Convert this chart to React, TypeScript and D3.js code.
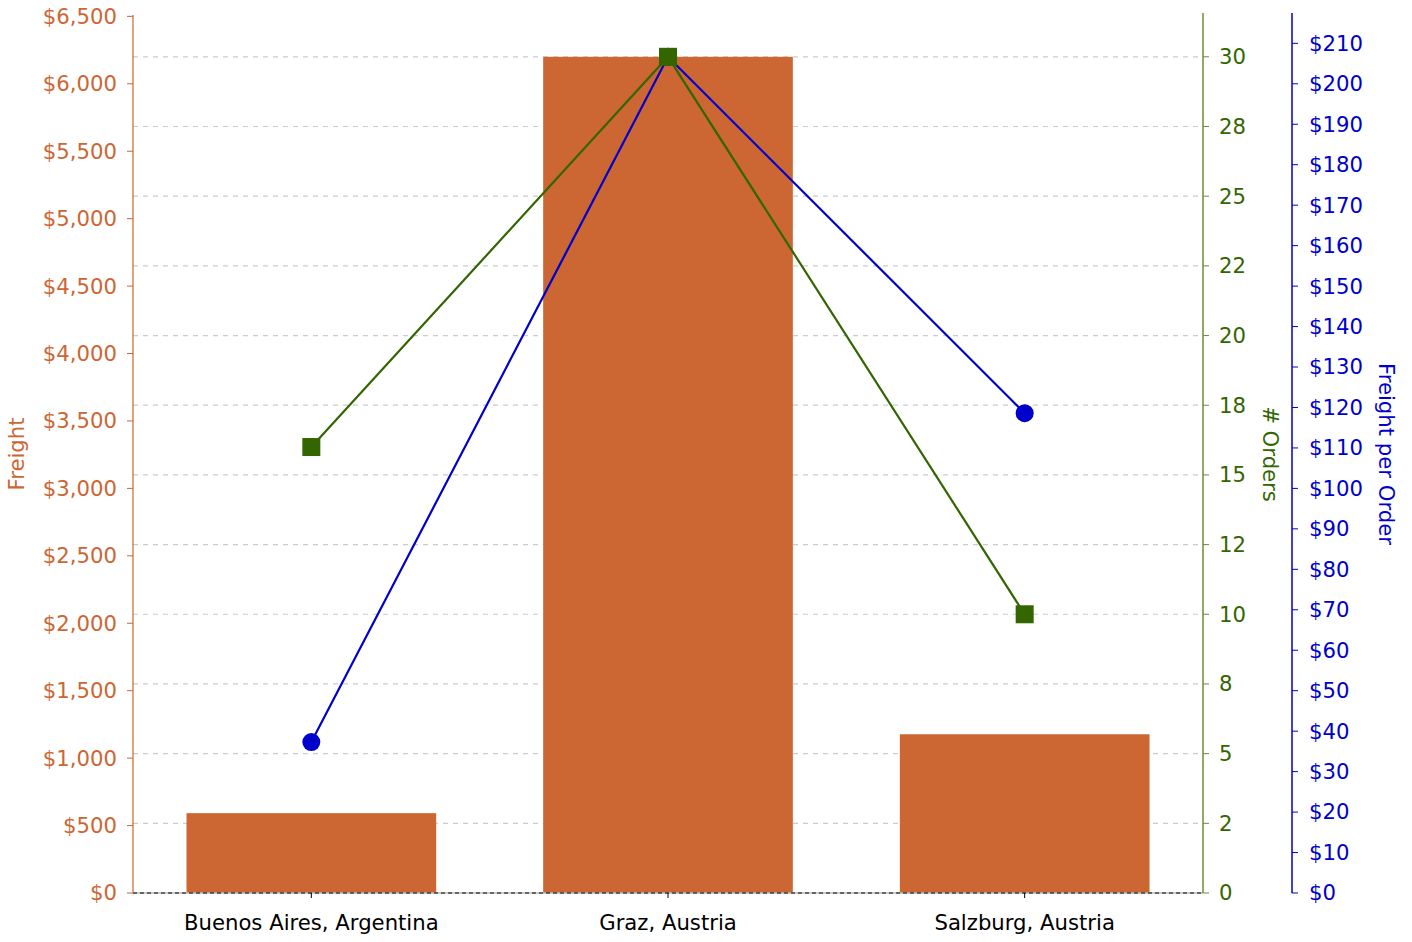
import React from "react";
import * as d3 from "d3";

const categories = ["Buenos Aires, Argentina", "Graz, Austria", "Salzburg, Austria"];
const freight = [592, 6200, 1177];
const orders = [16, 30, 10];
const freightPerOrder = [37.3, 206.67, 118.6];
const freightTicks = d3.range(0, 6501, 500);
const orderTicks = d3.range(0, 31, 2.5);
const fpoTicks = d3.range(0, 211, 10);

const W = 1412, H = 942;
const left = 133, right = 1203, top = 15, bottom = 893;
const blueX = 1292;
const ORANGE = "#cc6633", GREEN = "#336600", GREEN_AXIS = "#6b8e3a", BLUE = "#0000cc";
const FONT = "DejaVu Sans";
const FS = 21.2;

function roundHalfEven(v: number) {
  const f = Math.floor(v);
  const d = v - f;
  if (Math.abs(d - 0.5) < 1e-9) return f % 2 === 0 ? f : f + 1;
  return Math.round(v);
}

export default function App() {
  const x = d3.scaleBand<string>().domain(categories).range([left, right]).paddingInner(0.3).paddingOuter(0.15);
  const yF = d3.scaleLinear().domain([0, d3.max(freight)! * 1.05]).range([bottom, top]);
  const yO = d3.scaleLinear().domain([0, d3.max(orders)! * 1.05]).range([bottom, top]);
  const yP = d3.scaleLinear().domain([0, d3.max(freightPerOrder)! * 1.05]).range([bottom, top]);
  const cx = (c: string) => x(c)! + x.bandwidth() / 2;
  const fmtMoney = d3.format("$,");
  const lineO = d3.line<number>().x((_, i) => cx(categories[i])).y((d) => yO(d));
  const lineP = d3.line<number>().x((_, i) => cx(categories[i])).y((d) => yP(d));

  return (
    <svg width={W} height={H} style={{ position: "absolute", left: 0, top: 0 }} fontFamily={FONT}>
      <rect width={W} height={H} fill="white" />
      {/* grid */}
      {orderTicks.filter((t) => t > 0).map((t) => (
        <line key={t} x1={left} x2={right} y1={yO(t)} y2={yO(t)} stroke="#cccccc" strokeWidth={1.2} strokeDasharray="5,5" />
      ))}
      {/* bars */}
      {categories.map((c, i) => (
        <rect key={c} x={x(c)} y={yF(freight[i])} width={x.bandwidth()} height={bottom - yF(freight[i])} fill={ORANGE} />
      ))}
      {/* baseline */}
      <line x1={left} x2={right} y1={bottom} y2={bottom} stroke="#bbbbbb" strokeWidth={1.5} />
      <line x1={left} x2={right} y1={bottom} y2={bottom} stroke="#000" strokeWidth={1.2} strokeDasharray="4,3" />
      {/* x ticks & labels */}
      {categories.map((c) => (
        <g key={c}>
          <line x1={cx(c)} x2={cx(c)} y1={bottom} y2={bottom + 5} stroke="#000" />
          <text x={cx(c)} y={bottom + 37} textAnchor="middle" fontSize={FS} fill="#000">{c}</text>
        </g>
      ))}
      {/* lines */}
      <path d={lineO(orders)!} fill="none" stroke={GREEN} strokeWidth={2.2} />
      <path d={lineP(freightPerOrder)!} fill="none" stroke={BLUE} strokeWidth={2.2} />
      {freightPerOrder.map((v, i) => (
        <circle key={i} cx={cx(categories[i])} cy={yP(v)} r={9} fill={BLUE} />
      ))}
      {orders.map((v, i) => (
        <rect key={i} x={cx(categories[i]) - 9} y={yO(v) - 9} width={18} height={18} fill={GREEN} />
      ))}
      {/* left axis */}
      <line x1={left} x2={left} y1={top} y2={bottom} stroke={ORANGE} strokeWidth={1.2} />
      {freightTicks.map((t) => (
        <g key={t}>
          <line x1={left - 6} x2={left} y1={yF(t)} y2={yF(t)} stroke={ORANGE} />
          <text x={left - 16} y={yF(t)} dy="0.35em" textAnchor="end" fontSize={FS} fill={ORANGE}>{fmtMoney(t)}</text>
        </g>
      ))}
      <text transform={`translate(24,${(top + bottom) / 2}) rotate(-90)`} textAnchor="middle" fontSize={FS} fill={ORANGE}>Freight</text>
      {/* green axis */}
      <line x1={right} x2={right} y1={top - 2} y2={bottom} stroke={GREEN_AXIS} strokeWidth={1.5} />
      {orderTicks.map((t) => (
        <g key={t}>
          <line x1={right} x2={right + 6} y1={yO(t)} y2={yO(t)} stroke={GREEN_AXIS} />
          <text x={right + 16} y={yO(t)} dy="0.35em" textAnchor="start" fontSize={FS} fill={GREEN}>{roundHalfEven(t)}</text>
        </g>
      ))}
      <text transform={`translate(1263,${(top + bottom) / 2}) rotate(90)`} textAnchor="middle" fontSize={FS} fill={GREEN}># Orders</text>
      {/* blue axis */}
      <line x1={blueX} x2={blueX} y1={top - 2} y2={bottom} stroke={BLUE} strokeWidth={1.5} />
      {fpoTicks.map((t) => (
        <g key={t}>
          <line x1={blueX} x2={blueX + 6} y1={yP(t)} y2={yP(t)} stroke={BLUE} />
          <text x={blueX + 17} y={yP(t)} dy="0.35em" textAnchor="start" fontSize={FS} fill={BLUE}>{fmtMoney(t)}</text>
        </g>
      ))}
      <text transform={`translate(1379,${(top + bottom) / 2}) rotate(90)`} textAnchor="middle" fontSize={FS} fill={BLUE}>Freight per Order</text>
    </svg>
  );
}
